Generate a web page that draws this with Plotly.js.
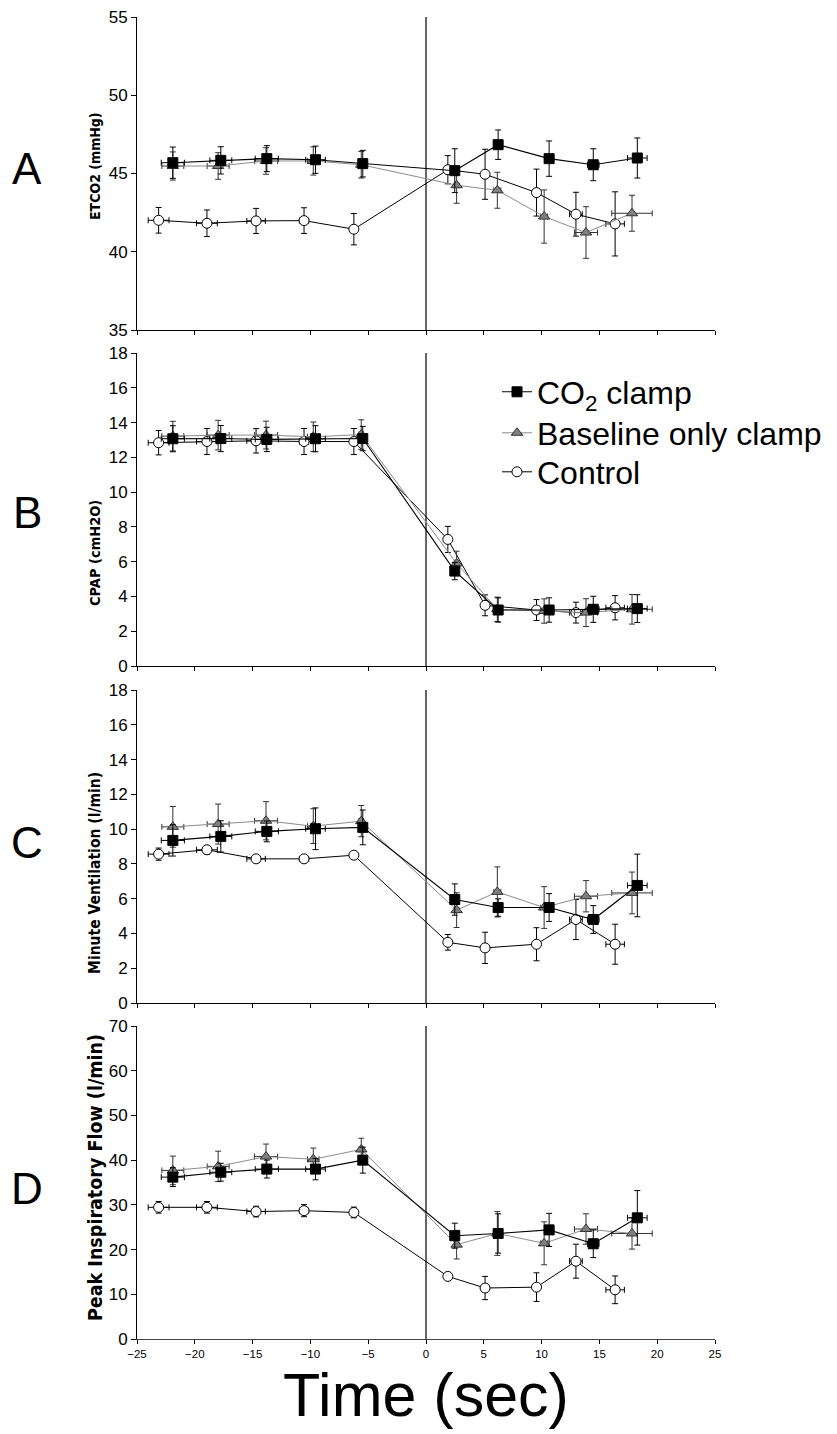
<!DOCTYPE html>
<html>
<head>
<meta charset="utf-8">
<script src="https://cdn.plot.ly/plotly-3.0.1.min.js"></script>
<style>
  html, body { margin: 0; padding: 0; background: #fff; }
  #chart { width: 837px; height: 1434px; }
</style>
</head>
<body>
<div id="chart"></div>
<script>
// ---------- Data ----------
const seriesNames = ["CO<sub>2</sub> clamp", "Baseline only clamp", "Control"];
const panelLetters = ["A", "B", "C", "D"];
const panelTitles = ["ETCO2 (mmHg)", "CPAP (cmH2O)", "Minute Ventilation (l/min)", "Peak Inspiratory Flow (l/min)"];
const xTitle = "Time (sec)";

// time (s) of each bin, per series, with horizontal SE
const timeCO2  = [-21.9, -17.75, -13.77, -9.56, -5.47, 2.49, 6.24, 10.65, 14.47, 18.28];
const timeBase = [-21.9, -17.98, -13.84, -9.75, -5.6, 2.65, 6.17, 10.22, 13.84, 17.82];
const timeCtrl = [-23.13, -18.95, -14.7, -10.55, -6.24, 1.89, 5.11, 9.56, 12.97, 16.36];
const timeErrCO2  = [1.0, 0.95, 1.0, 0.85, 0.3, 0.3, 0.3, 0.4, 0.5, 0.85];
const timeErrBase = [0.95, 0.95, 1.0, 0.5, 0.2, 0.2, 0.3, 0.3, 1.0, 1.75];
const timeErrCtrl = [0.9, 0.9, 0.8, 0.4, 0.2, 0.2, 0.2, 0.2, 0.55, 0.8];

// Panel A: ETCO2 (mmHg)
const etco2CO2     = [45.69, 45.84, 45.95, 45.88, 45.63, 45.18, 46.84, 45.95, 45.56, 45.99];
const etco2CO2Err  = [1.0, 0.87, 0.83, 0.87, 0.85, 1.4, 0.94, 1.13, 1.02, 1.28];
const etco2Base    = [45.48, 45.48, 45.8, 45.8, 45.56, 44.25, 43.93, 42.25, 41.23, 42.46];
const etco2BaseErr = [0.9, 0.85, 0.85, 0.9, 0.85, 1.15, 1.15, 1.7, 1.65, 1.15];
const etco2Ctrl    = [42.01, 41.82, 41.97, 41.99, 41.44, 45.24, 44.95, 43.78, 42.4, 41.78];
const etco2CtrlErr = [0.82, 0.85, 0.8, 0.82, 1.0, 0.9, 1.6, 1.5, 1.4, 2.05];

// Panel B: CPAP (cmH2O)
const cpapCO2     = [13.07, 13.08, 13.03, 13.07, 13.08, 5.46, 3.22, 3.22, 3.26, 3.3];
const cpapCO2Err  = [0.75, 0.75, 0.7, 0.75, 0.7, 0.5, 0.7, 0.7, 0.75, 0.8];
const cpapBase    = [13.22, 13.28, 13.28, 13.18, 13.31, 5.9, 3.26, 3.16, 3.07, 3.26];
const cpapBaseErr = [0.85, 0.85, 0.8, 0.85, 0.85, 0.7, 0.7, 0.7, 0.8, 0.85];
const cpapCtrl    = [12.84, 12.91, 12.95, 12.91, 12.91, 7.28, 3.49, 3.22, 3.07, 3.35];
const cpapCtrlErr = [0.7, 0.75, 0.7, 0.75, 0.75, 0.75, 0.6, 0.6, 0.6, 0.7];

// Panel C: Minute ventilation (l/min)
const veCO2     = [9.35, 9.58, 9.87, 10.02, 10.1, 5.95, 5.49, 5.49, 4.8, 6.76];
const veCO2Err  = [0.9, 0.9, 0.6, 1.2, 1.0, 0.9, 0.5, 0.8, 0.8, 1.8];
const veBase    = [10.13, 10.29, 10.48, 10.17, 10.46, 5.34, 6.39, 5.49, 6.14, 6.33];
const veBaseErr = [1.17, 1.15, 1.1, 1.0, 0.9, 1.0, 1.44, 1.2, 0.9, 1.2];
const veCtrl    = [8.56, 8.81, 8.29, 8.29, 8.5, 3.49, 3.17, 3.38, 4.8, 3.38];
const veCtrlErr = [0.35, 0.25, 0.15, 0.1, 0.15, 0.45, 0.9, 0.95, 1.15, 1.15];

// Panel D: Peak inspiratory flow (l/min)
const pifCO2     = [36.2, 37.3, 38.0, 38.0, 40.0, 23.1, 23.6, 24.4, 21.3, 27.1];
const pifCO2Err  = [2.1, 2.0, 2.0, 2.4, 2.9, 2.8, 4.4, 3.7, 3.1, 6.1];
const pifBase    = [37.7, 38.6, 40.8, 40.2, 42.4, 21.1, 23.6, 21.4, 24.6, 23.6];
const pifBaseErr = [3.2, 3.4, 2.8, 2.5, 2.5, 3.2, 4.9, 4.8, 3.4, 3.5];
const pifCtrl    = [29.45, 29.45, 28.5, 28.7, 28.3, 14.0, 11.4, 11.6, 17.4, 11.0];
const pifCtrlErr = [1.3, 1.3, 1.2, 1.35, 1.2, 0.8, 2.6, 3.2, 3.8, 3.1];

const yRanges = [[35, 55], [0, 18], [0, 18], [0, 70]];
const yDticks = [5, 2, 2, 10];
const xRange = [-25, 25];
const xDtick = 5;

// ---------- Layout geometry ----------
const W = 837, H = 1434;
const M = {l: 137, r: 122, t: 17, b: 95};
const plotH = H - M.t - M.b, plotW = W - M.l - M.r;
const panelPx = [[17, 330], [353, 666], [690, 1003], [1026, 1339]];
const py = p => 1 - (p - M.t) / plotH;
const pxX = p => (p - M.l) / plotW;

const FONT = "Liberation Sans, Arial, Helvetica, sans-serif";
const NARROW = "Liberation Sans Narrow, Arial Narrow, DejaVu Sans Condensed, sans-serif";

const panels = [
  {co2: etco2CO2, co2e: etco2CO2Err, base: etco2Base, basee: etco2BaseErr, ctrl: etco2Ctrl, ctrle: etco2CtrlErr},
  {co2: cpapCO2, co2e: cpapCO2Err, base: cpapBase, basee: cpapBaseErr, ctrl: cpapCtrl, ctrle: cpapCtrlErr},
  {co2: veCO2, co2e: veCO2Err, base: veBase, basee: veBaseErr, ctrl: veCtrl, ctrle: veCtrlErr},
  {co2: pifCO2, co2e: pifCO2Err, base: pifBase, basee: pifBaseErr, ctrl: pifCtrl, ctrle: pifCtrlErr}
];

const traces = [];
panels.forEach((p, i) => {
  const xa = i === 0 ? 'x' : 'x' + (i + 1);
  const ya = i === 0 ? 'y' : 'y' + (i + 1);
  const show = i === 1;
  // Control (drawn first, underneath)
  traces.push({
    type: 'scatter', mode: 'lines+markers', name: seriesNames[2], legend: 'legend3',
    showlegend: show, xaxis: xa, yaxis: ya, cliponaxis: false,
    x: timeCtrl, y: p.ctrl,
    error_x: {type: 'data', array: timeErrCtrl, visible: true, color: '#000', thickness: 1, width: 3},
    error_y: {type: 'data', array: p.ctrle, visible: true, color: '#000', thickness: 1, width: 3},
    line: {color: '#000', width: 1},
    marker: {symbol: 'circle', size: 10, color: '#fff', line: {color: '#000', width: 1}}
  });
  // Baseline only clamp
  traces.push({
    type: 'scatter', mode: 'lines+markers', name: seriesNames[1], legend: 'legend2',
    showlegend: show, xaxis: xa, yaxis: ya, cliponaxis: false,
    x: timeBase, y: p.base,
    error_x: {type: 'data', array: timeErrBase, visible: true, color: '#333', thickness: 1, width: 3},
    error_y: {type: 'data', array: p.basee, visible: true, color: '#333', thickness: 1, width: 3},
    line: {color: '#8c8c8c', width: 1},
    marker: {symbol: 'triangle-up', size: 10, color: '#7f7f7f', line: {color: '#333', width: 1}}
  });
  // CO2 clamp (on top)
  traces.push({
    type: 'scatter', mode: 'lines+markers', name: seriesNames[0], legend: 'legend',
    showlegend: show, xaxis: xa, yaxis: ya, cliponaxis: false,
    x: timeCO2, y: p.co2,
    error_x: {type: 'data', array: timeErrCO2, visible: true, color: '#000', thickness: 1, width: 3},
    error_y: {type: 'data', array: p.co2e, visible: true, color: '#000', thickness: 1, width: 3},
    line: {color: '#000', width: 1.1},
    marker: {symbol: 'square', size: 10, color: '#000', line: {color: '#000', width: 1}}
  });
});

const legendBase = (rowY) => ({
  x: pxX(497), y: py(rowY), xanchor: 'left', yanchor: 'middle',
  font: {family: FONT, size: 32, color: '#000'},
  bgcolor: 'rgba(0,0,0,0)', borderwidth: 0, itemwidth: 30
});

const layout = {
  width: W, height: H,
  margin: Object.assign({autoexpand: false}, M),
  paper_bgcolor: '#fff', plot_bgcolor: '#fff',
  font: {family: FONT, color: '#000'},
  showlegend: true,
  legend: legendBase(392),
  legend2: legendBase(433),
  legend3: legendBase(472),
  annotations: [],
  shapes: []
};

for (let i = 0; i < 4; i++) {
  const sfx = i === 0 ? '' : String(i + 1);
  const dom = [py(panelPx[i][1]), py(panelPx[i][0])];
  layout['xaxis' + sfx] = {
    domain: [0, 1], anchor: 'y' + sfx, range: xRange, dtick: xDtick, tick0: 0,
    showgrid: false, zeroline: true, zerolinecolor: '#666', zerolinewidth: 1.5,
    showline: true, linecolor: i === 3 ? '#444' : '#000', linewidth: 1,
    ticks: 'outside', ticklen: 4, tickcolor: '#000', tickwidth: 1,
    showticklabels: i === 3,
    tickfont: {family: FONT, size: 11.5, color: '#000'},
    fixedrange: true
  };
  layout['yaxis' + sfx] = {
    domain: dom, anchor: 'x' + sfx, range: yRanges[i], dtick: yDticks[i], tick0: 0,
    showgrid: false, zeroline: false,
    showline: true, linecolor: '#000', linewidth: 1,
    ticks: 'outside', ticklen: 5, tickcolor: '#000', tickwidth: 1,
    tickfont: {family: FONT, size: 17, color: '#000'},
    fixedrange: true
  };
}
layout.xaxis4.title = {text: xTitle, font: {family: FONT, size: 61, color: '#000'}, standoff: 14};

// Panel letters and y-axis titles
const letterY = [168, 512, 842, 1188];
const titleY = [166, 553, 873, 1178];
const titleSize = [14, 14.5, 15.5, 19.5];
for (let i = 0; i < 4; i++) {
  layout.annotations.push({
    xref: 'paper', yref: 'paper', x: pxX(27), y: py(letterY[i]),
    xanchor: 'center', yanchor: 'middle', showarrow: false,
    text: panelLetters[i], font: {family: FONT, size: 44, color: '#000'}
  });
  layout.annotations.push({
    xref: 'paper', yref: 'paper', x: pxX(95), y: py(titleY[i]),
    xanchor: 'center', yanchor: 'middle', showarrow: false, textangle: -90,
    text: panelTitles[i], font: {family: NARROW, size: titleSize[i], color: '#000', weight: 'bold'}
  });
}

Plotly.newPlot('chart', traces, layout, {displayModeBar: false, staticPlot: true});
</script>
</body>
</html>
